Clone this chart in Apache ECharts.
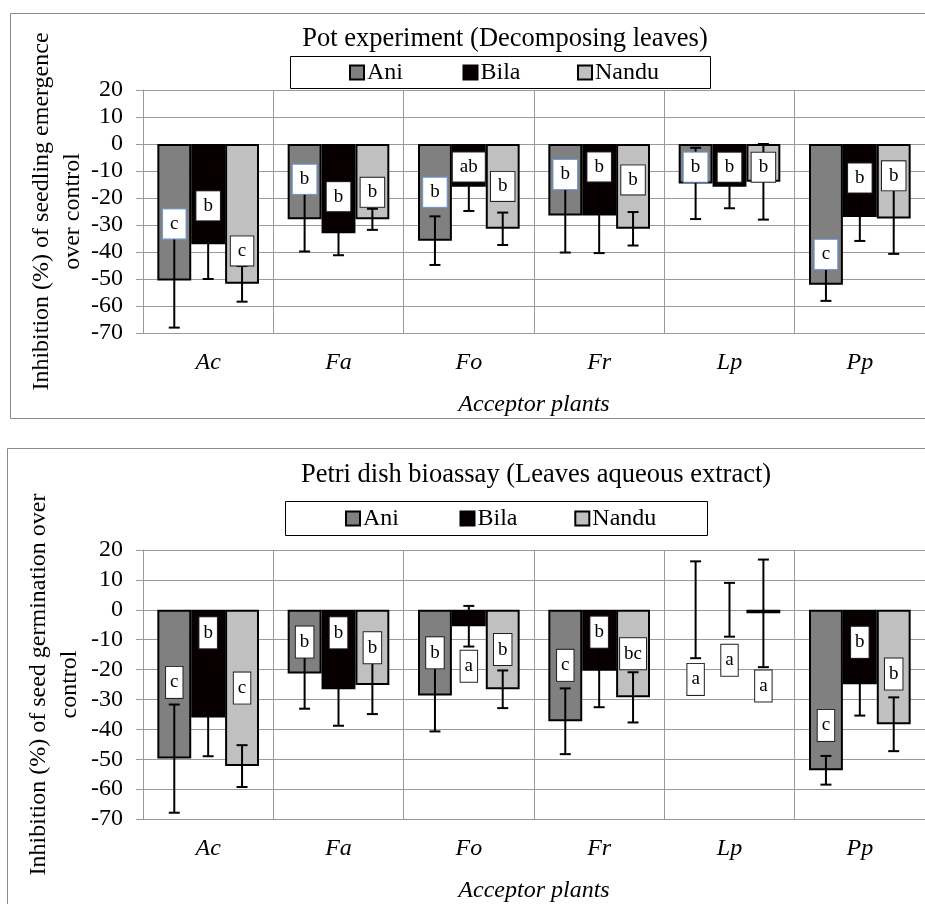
<!DOCTYPE html>
<html>
<head>
<meta charset="utf-8">
<script src="https://cdn.jsdelivr.net/npm/echarts@6/dist/echarts.min.js"></script>
<style>
html,body{margin:0;padding:0;background:#fff;}
#chart{width:925px;height:904px;}
</style>
</head>
<body>
<div id="chart"></div>
<script>
// ---------- DATA ----------
const categories = ['Ac', 'Fa', 'Fo', 'Fr', 'Lp', 'Pp'];
const seriesNames = ['Ani', 'Bila', 'Nandu'];

// Pot experiment (Decomposing leaves)
const aniPot = [-50.6, -27.9, -35.8, -26.5, -14.6, -52.1];
const aniPotErr = [17.4, 11.9, 9.0, 13.7, 13.2, 6.0];
const bilaPot = [-37.1, -33.1, -15.8, -26.5, -15.8, -27.0];
const bilaPotErr = [12.9, 8.1, 9.0, 13.9, 8.0, 8.9];
const nanduPot = [-51.8, -27.9, -31.4, -31.4, -14.0, -27.6];
const nanduPotErr = [6.6, 3.9, 6.0, 6.2, 14.0, 13.1];
const aniPotSig = ['c', 'b', 'b', 'b', 'b', 'c'];
const bilaPotSig = ['b', 'b', 'ab', 'b', 'b', 'b'];
const nanduPotSig = ['c', 'b', 'b', 'b', 'b', 'b'];
const aniPotSigAt = [-29.6, -13.1, -17.9, -11.3, -8.6, -40.9];
const bilaPotSigAt = [-22.9, -19.5, -8.5, -8.5, -8.6, -12.6];
const nanduPotSigAt = [-39.6, -17.9, -15.7, -13.3, -8.6, -11.8];

// Petri dish bioassay (Leaves aqueous extract)
const aniPetri = [-49.8, -21.3, -28.7, -37.3, 0, -53.7];
const aniPetriErr = [18.1, 11.8, 12.0, 11.0, 16.2, 4.8];
const bilaPetri = [-36.0, -26.6, -5.5, -20.4, 0, -24.9];
const bilaPetriErr = [13.0, 12.2, 6.8, 12.2, 9.0, 10.5];
const nanduPetri = [-52.3, -25.2, -26.6, -29.3, -1.2, -38.3];
const nanduPetriErr = [7.0, 9.7, 6.3, 8.4, 18.0, 9.0];
const aniPetriSig = ['c', 'b', 'b', 'c', 'a', 'c'];
const bilaPetriSig = ['b', 'b', 'a', 'b', 'a', 'b'];
const nanduPetriSig = ['c', 'b', 'b', 'bc', 'a', 'b'];
const aniPetriSigAt = [-24.3, -10.8, -14.4, -18.6, -23.3, -38.7];
const bilaPetriSigAt = [-7.7, -7.7, -18.9, -7.5, -16.9, -10.9];
const nanduPetriSigAt = [-26.2, -12.7, -13.3, -14.7, -25.5, -21.5];

const yTicks = {min: -70, max: 20, interval: 10};
const titles = ['Pot experiment (Decomposing leaves)', 'Petri dish bioassay (Leaves aqueous extract)'];
const yNames = ['Inhibition (%) of seedling emergence\nover control', 'Inhibition (%) of seed germination over\ncontrol'];
const xName = 'Acceptor plants';

// ---------- STYLE ----------
const FONT = '"Liberation Serif", "Times New Roman", serif';
const colors = ['#808080', '#080000', '#c0c0c0'];
const gridColor = '#9a9a9a';
const catGap = 0.22;

const panels = [
  {means: [aniPot, bilaPot, nanduPot], errs: [aniPotErr, bilaPotErr, nanduPotErr],
   sig: [aniPotSig, bilaPotSig, nanduPotSig], sigAt: [aniPotSigAt, bilaPotSigAt, nanduPotSigAt],
   grid: {left: 143, top: 90, width: 788, height: 243},
   legendBox: {x: 290.5, y: 56.5, w: 420, h: 32}, legendX: [349, 462.5, 577],
   title: [505, 39], yNameGap: 55, boxPad: [5, 7], boxBorder: ['#6f9fd8', '#222', '#222']},
  {means: [aniPetri, bilaPetri, nanduPetri], errs: [aniPetriErr, bilaPetriErr, nanduPetriErr],
   sig: [aniPetriSig, bilaPetriSig, nanduPetriSig], sigAt: [aniPetriSigAt, bilaPetriSigAt, nanduPetriSigAt],
   grid: {left: 143, top: 550, width: 792, height: 270},
   legendBox: {x: 285.5, y: 501.5, w: 422, h: 34}, legendX: [345, 459.5, 574.3],
   title: [536, 475], yNameGap: 58, boxPad: [6, 4], boxBorder: ['#222', '#222', '#222']}
];

const grid = [], xAxis = [], yAxis = [], series = [], legend = [];
const graphic = [
  {type: 'rect', shape: {x: 10.5, y: 13.5, width: 930, height: 405}, style: {fill: 'none', stroke: '#8a8a8a', lineWidth: 1}, z: -10, silent: true},
  {type: 'rect', shape: {x: 7.5, y: 448.5, width: 930, height: 480}, style: {fill: 'none', stroke: '#8a8a8a', lineWidth: 1}, z: -10, silent: true}
];

panels.forEach((p, g) => {
  grid.push(Object.assign({}, p.grid));
  xAxis.push({
    type: 'category', gridIndex: g, data: categories,
    axisTick: {show: false},
    axisLine: {show: true, onZero: false, lineStyle: {color: gridColor, width: 1}},
    splitLine: {show: true, lineStyle: {color: gridColor, width: 1}},
    axisLabel: {interval: 0, margin: 18, color: '#000', fontFamily: FONT, fontSize: 24, fontStyle: 'italic'},
    name: xName, nameLocation: 'middle', nameGap: 60, nameMoveOverlap: false,
    nameTextStyle: {color: '#000', fontFamily: FONT, fontSize: 24, fontStyle: 'italic'}
  });
  yAxis.push({
    type: 'value', gridIndex: g, min: yTicks.min, max: yTicks.max, interval: yTicks.interval,
    axisLine: {show: true, lineStyle: {color: gridColor, width: 1}},
    axisTick: {show: true, length: 7, lineStyle: {color: gridColor, width: 1}},
    splitLine: {show: true, lineStyle: {color: gridColor, width: 1}},
    axisLabel: {margin: 20, color: '#000', fontFamily: FONT, fontSize: 24},
    name: yNames[g], nameLocation: 'middle', nameGap: p.yNameGap, nameMoveOverlap: false,
    nameTextStyle: {color: '#000', fontFamily: FONT, fontSize: 24, lineHeight: 31}
  });
  // legend frame + one legend per item (fixed spacing like the original)
  graphic.push({type: 'rect', shape: {x: p.legendBox.x, y: p.legendBox.y, width: p.legendBox.w, height: p.legendBox.h},
    style: {fill: '#fff', stroke: '#000', lineWidth: 1}, z: 50, silent: true});
  seriesNames.forEach((name, k) => {
    legend.push({
      left: p.legendX[k], top: p.legendBox.y + p.legendBox.h / 2 - 13, padding: 0, z: 60,
      data: [name], icon: 'rect', itemWidth: 14, itemHeight: 14, itemGap: 0,
      textStyle: {color: '#000', fontFamily: FONT, fontSize: 24, lineHeight: 26, padding: [0, 0, 0, -2]}
    });
  });
  seriesNames.forEach((name, k) => {
    series.push({
      type: 'bar', name: name, xAxisIndex: g, yAxisIndex: g,
      barGap: '0%', barCategoryGap: (catGap * 100) + '%',
      data: p.means[k].map(v => v === 0 ? {value: v, itemStyle: {borderWidth: 0}} : v),
      itemStyle: {color: colors[k], borderColor: '#000', borderWidth: 2},
      emphasis: {disabled: true}, animation: false, z: 2
    });
  });
  // error bars
  const errData = [];
  seriesNames.forEach((name, k) => {
    categories.forEach((c, i) => errData.push([i, p.means[k][i], p.errs[k][i], k]));
  });
  series.push({
    type: 'custom', xAxisIndex: g, yAxisIndex: g, data: errData, z: 5, silent: true, animation: false,
    encode: {x: 0, y: 1},
    renderItem: function (params, api) {
      const i = api.value(0), m = api.value(1), e = api.value(2), k = api.value(3);
      const bw = api.size([1, 0])[0];
      const barW = bw * (1 - catGap) / 3;
      const hi = api.coord([i, m + e]), lo = api.coord([i, m - e]);
      const x = hi[0] + (k - 1) * barW;
      const cap = 5.5;
      const st = {stroke: '#000', lineWidth: 2};
      return {type: 'group', children: [
        {type: 'line', shape: {x1: x, y1: hi[1], x2: x, y2: lo[1]}, style: st},
        {type: 'line', shape: {x1: x - cap, y1: hi[1], x2: x + cap, y2: hi[1]}, style: st},
        {type: 'line', shape: {x1: x - cap, y1: lo[1], x2: x + cap, y2: lo[1]}, style: st}
      ]};
    }
  });
  // significance letters
  const sigData = [];
  seriesNames.forEach((name, k) => {
    categories.forEach((c, i) => sigData.push([i, p.sigAt[k][i], k, p.sig[k][i]]));
  });
  series.push({
    type: 'custom', xAxisIndex: g, yAxisIndex: g, data: sigData, z: 10, silent: true, animation: false,
    encode: {x: 0, y: 1},
    renderItem: function (params, api) {
      const d = sigData[params.dataIndex];
      const i = d[0], y = d[1], k = d[2];
      const bw = api.size([1, 0])[0];
      const barW = bw * (1 - catGap) / 3;
      const pt = api.coord([i, y]);
      return {type: 'text', x: pt[0] + (k - 1) * barW, y: pt[1], style: {
        text: d[3], fontFamily: FONT, fontSize: 19, fill: '#000',
        align: 'center', verticalAlign: 'middle', lineHeight: 19,
        backgroundColor: '#fff', borderColor: p.boxBorder[k], borderWidth: 1,
        padding: [p.boxPad[0], p.boxPad[1], p.boxPad[0], p.boxPad[1]]
      }};
    }
  });
  graphic.push({type: 'text', x: p.title[0], y: p.title[1], silent: true,
    style: {text: titles[g], fontFamily: FONT, fontSize: 26.5, fill: '#000', align: 'center', verticalAlign: 'middle'}});
});

const chart = echarts.init(document.getElementById('chart'), null, {renderer: 'canvas'});
chart.setOption({
  animation: false,
  backgroundColor: '#fff',
  grid: grid, xAxis: xAxis, yAxis: yAxis, legend: legend, series: series, graphic: graphic
});
</script>
</body>
</html>
